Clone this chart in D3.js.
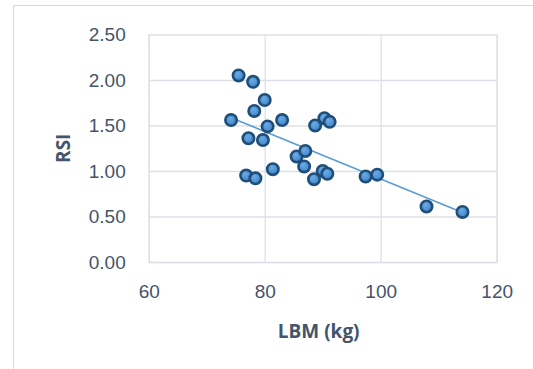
<!DOCTYPE html>
<html>
<head>
<meta charset="utf-8">
<script src="https://cdn.jsdelivr.net/npm/d3@7"></script>
<style>
  body { margin: 0; background: #fff; }
  svg { display: block; font-family: "Open Sans", "Liberation Sans", sans-serif; }
</style>
</head>
<body>
<svg width="533" height="369"></svg>
<script>
// data
var lbm = [75.5, 78.0, 80.0, 78.2, 74.2, 83.0, 80.5, 77.2, 79.7, 88.7, 90.3, 91.2,
           85.5, 87.0, 86.8, 81.4, 76.8, 78.4, 90.0, 90.8, 88.5, 97.4, 99.4, 107.9, 114.1];
var rsi = [2.05, 1.98, 1.78, 1.66, 1.56, 1.56, 1.49, 1.36, 1.34, 1.50, 1.58, 1.54,
           1.16, 1.22, 1.05, 1.02, 0.95, 0.92, 1.00, 0.97, 0.91, 0.94, 0.96, 0.61, 0.55];
var xTicks = [60, 80, 100, 120];
var yTicks = [0, 0.5, 1, 1.5, 2, 2.5];

var margin = {top: 34.5, right: 36.3, bottom: 107, left: 148.7},
    width = 533 - margin.left - margin.right,
    height = 369 - margin.top - margin.bottom;

var svg = d3.select("svg");

// outer chart frame
svg.append("rect")
    .attr("x", 13.5).attr("y", 5.5)
    .attr("width", 600).attr("height", 400)
    .attr("fill", "none")
    .attr("stroke", "#d9d9d9");

var x = d3.scaleLinear().domain([60, 120]).range([0, width]);
var y = d3.scaleLinear().domain([0, 2.5]).range([height, 0]);

var chart = svg.append("g")
    .attr("transform", "translate(" + margin.left + "," + margin.top + ")");

// gridlines
chart.append("g")
    .call(d3.axisLeft(y).tickValues(yTicks).tickSize(-width).tickFormat(""))
    .call(function(g) { g.select(".domain").remove(); })
    .selectAll("line").attr("stroke", "#dde1e7").attr("stroke-width", 1.3);

chart.append("g")
    .attr("transform", "translate(0," + height + ")")
    .call(d3.axisBottom(x).tickValues(xTicks).tickSize(-height).tickFormat(""))
    .call(function(g) { g.select(".domain").attr("stroke", "#dde1e7").attr("stroke-width", 1.3); })
    .selectAll("line").attr("stroke", "#dde1e7").attr("stroke-width", 1.3);

// tick labels
var yAxis = chart.append("g")
    .call(d3.axisLeft(y).tickValues(yTicks).tickSize(0).tickPadding(23)
        .tickFormat(d3.format(".2f")));
yAxis.select(".domain").remove();
yAxis.selectAll("text").attr("fill", "#44546a").style("font-size", "19px");

var xAxis = chart.append("g")
    .attr("transform", "translate(0," + height + ")")
    .call(d3.axisBottom(x).tickValues(xTicks).tickSize(0).tickPadding(23));
xAxis.select(".domain").remove();
xAxis.selectAll("text").attr("fill", "#44546a").style("font-size", "19px");

// axis titles
svg.append("text")
    .attr("x", margin.left + width / 2 - 4)
    .attr("y", 338)
    .attr("text-anchor", "middle")
    .attr("fill", "#44546a")
    .style("font-size", "19px")
    .style("font-weight", "bold")
    .text("LBM (kg)");

svg.append("text")
    .attr("transform", "translate(70," + (margin.top + height / 2) + ") rotate(-90)")
    .attr("text-anchor", "middle")
    .attr("fill", "#44546a")
    .style("font-size", "19px")
    .style("font-weight", "bold")
    .text("RSI");

// linear trendline (least squares)
var mx = d3.mean(lbm), my = d3.mean(rsi);
var sxy = d3.sum(lbm, function(v, i) { return (v - mx) * (rsi[i] - my); });
var sxx = d3.sum(lbm, function(v) { return (v - mx) * (v - mx); });
var slope = sxy / sxx, icept = my - slope * mx;
var ext = d3.extent(lbm);

chart.append("line")
    .attr("x1", x(ext[0])).attr("y1", y(icept + slope * ext[0]))
    .attr("x2", x(ext[1])).attr("y2", y(icept + slope * ext[1]))
    .attr("stroke", "#5b9bd5")
    .attr("stroke-width", 1.6);

// markers
var defs = svg.append("defs");
var grad = defs.append("radialGradient").attr("id", "dot")
    .attr("cx", "40%").attr("cy", "35%").attr("r", "70%");
grad.append("stop").attr("offset", "0%").attr("stop-color", "#6aaae6");
grad.append("stop").attr("offset", "100%").attr("stop-color", "#3f83c9");

chart.selectAll(".pt")
    .data(lbm)
    .enter().append("circle")
    .attr("class", "pt")
    .attr("cx", function(d) { return x(d); })
    .attr("cy", function(d, i) { return y(rsi[i]); })
    .attr("r", 5.7)
    .attr("fill", "url(#dot)")
    .attr("stroke", "#1f4e79")
    .attr("stroke-width", 2.6);
</script>
</body>
</html>
